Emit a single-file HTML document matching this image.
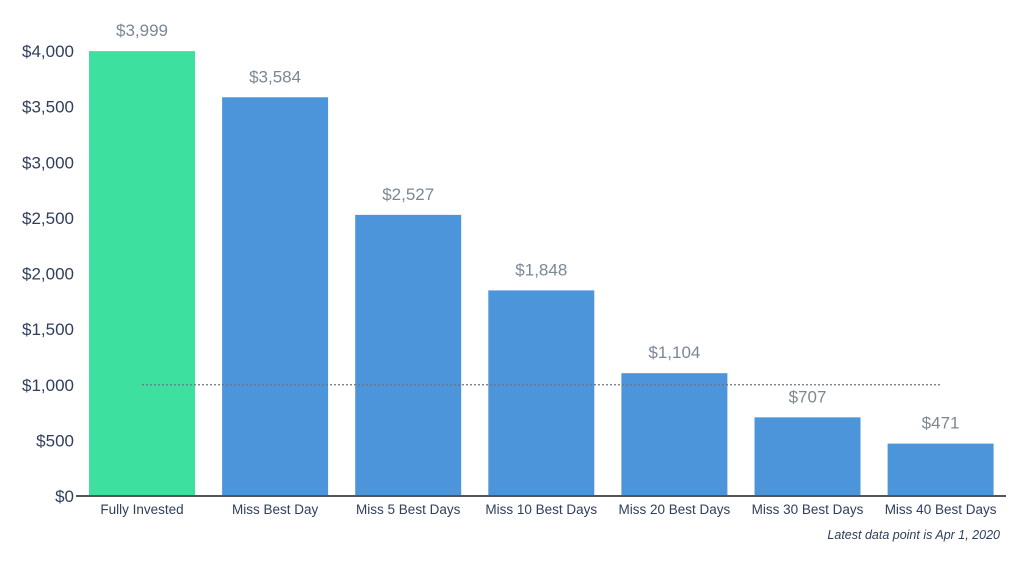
<!DOCTYPE html>
<html><head><meta charset="utf-8"><style>
body{margin:0;background:#fff;width:1024px;height:576px;overflow:hidden;font-family:"Liberation Sans",sans-serif}
</style></head><body>
<svg id="chart" width="1024" height="576" xmlns="http://www.w3.org/2000/svg"></svg>
<script>
const categories=["Fully Invested","Miss Best Day","Miss 5 Best Days","Miss 10 Best Days","Miss 20 Best Days","Miss 30 Best Days","Miss 40 Best Days"];
const values=[3999,3584,2527,1848,1104,707,471];
const valueLabels=["$3,999","$3,584","$2,527","$1,848","$1,104","$707","$471"];
const yTicks=[0,500,1000,1500,2000,2500,3000,3500,4000];
const yTickLabels=["$0","$500","$1,000","$1,500","$2,000","$2,500","$3,000","$3,500","$4,000"];
const refValue=1000;
const NS="http://www.w3.org/2000/svg";
const svg=document.getElementById('chart');
const y=v=>496-v*(445/4000);
const x0=89,step=133.1,bw=106;
const x=i=>x0+i*step;
function mk(t,a){const e=document.createElementNS(NS,t);for(const k in a)e.setAttribute(k,a[k]);svg.appendChild(e);return e;}
yTicks.forEach((t,i)=>{
 const tx=mk('text',{x:74,y:y(t)+6,'text-anchor':'end','font-size':17,fill:'#2f3e5c'});tx.textContent=yTickLabels[i];
 
 
});
values.forEach((v,i)=>{
 const r=mk('rect',{x:x(i),y:y(v),width:bw,height:y(0)-y(v),fill:i===0?'#3ee0a0':'#4c95da'});
 
 
 const l=mk('text',{x:x(i)+bw/2,y:y(v)-15,'text-anchor':'middle','font-size':17,fill:'#7c8794'});l.textContent=valueLabels[i];
 
 
 const c=mk('text',{x:x(i)+bw/2,y:514,'text-anchor':'middle','font-size':13.5,fill:'#2f3e5c'});c.textContent=categories[i];
 
 
});
const ax=mk('line',{x1:76,x2:1006,y1:y(0),y2:y(0),stroke:'#555','stroke-width':2});


const ref=mk('line',{x1:x(0)+bw/2,x2:x(6)+bw/2,y1:y(refValue),y2:y(refValue),stroke:'#6b7480','stroke-width':1.3,'stroke-dasharray':'2,2'});


const n=mk('text',{x:1000,y:539,'text-anchor':'end','font-size':12.5,'font-style':'italic',fill:'#2f3e5c'});n.textContent="Latest data point is Apr 1, 2020";


</script>
</body></html>
